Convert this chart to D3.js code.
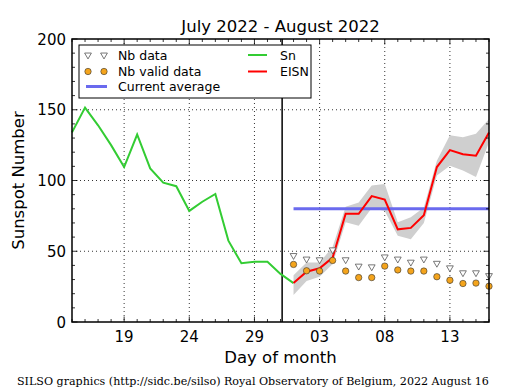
<!DOCTYPE html>
<html>
<head>
<meta charset="utf-8">
<script src="https://cdn.jsdelivr.net/npm/d3@7"></script>
<style>
body{margin:0;background:#fff;}
svg text{font-family:"DejaVu Sans",sans-serif;fill:#000;}
</style>
</head>
<body>
<svg id="chart" width="515" height="390"></svg>
<script>
// Sn before the current month, EISN for the current month
var snDates = ["2022-07-15","2022-07-16","2022-07-17","2022-07-18","2022-07-19","2022-07-20","2022-07-21","2022-07-22","2022-07-23","2022-07-24","2022-07-25","2022-07-26","2022-07-27","2022-07-28","2022-07-29","2022-07-30","2022-07-31","2022-08-01"];
var snValues = [134,151.5,139,125,109.5,132.5,108.5,98.5,96,78.5,85,90.5,57.5,41.5,42.5,42.5,34,27.5];

var eisnDates = ["2022-08-01","2022-08-02","2022-08-03","2022-08-04","2022-08-05","2022-08-06","2022-08-07","2022-08-08","2022-08-09","2022-08-10","2022-08-11","2022-08-12","2022-08-13","2022-08-14","2022-08-15","2022-08-16"];
var eisnValues = [27.5,35.5,38,45.5,76.5,76.5,89,86.5,65.5,66.5,75.5,109.5,121.5,118.5,117.5,134];
var eisnHigh = [33,42,42,53,81.5,84.5,96.5,97.5,70.5,74,81,114,132,130.5,133,143.5];
var eisnLow = [19,29,32,41,70.5,68,80.5,78.5,61,58.5,70,103.5,110.5,107,102.5,127];
var nbData = [47,44.5,44,51,44,39.5,39,46,44.5,42.3,44.5,41.5,38.3,34.8,34.8,32.8];
var nbValid = [40.7,36.2,36,43.5,36,31.4,31.4,39.5,36.8,36,36,32,29.5,27.2,27.5,25.3];

var currentAverage = 80;
var monthStart = "2022-07-31T03:00";

var xDomain = ["2022-07-15","2022-08-16"];
var xTicks = ["2022-07-19","2022-07-24","2022-07-29","2022-08-03","2022-08-08","2022-08-13"];
var yTicks = [0,50,100,150,200];

var parse = function(s){return new Date(s + (s.length == 10 ? "T00:00" : ""));};

var plotLeft = 72, plotRight = 489, plotTop = 39, plotBottom = 322;
var svg = d3.select("#chart");

var x = d3.scaleTime().domain(xDomain.map(parse)).range([plotLeft,plotRight]);
var y = d3.scaleLinear().domain([0,200]).range([plotBottom,plotTop]);

// grid
svg.append("g").selectAll("line")
    .data(xTicks.map(parse))
    .enter().append("line")
    .attr("x1",function(d){return x(d);}).attr("x2",function(d){return x(d);})
    .attr("y1",plotTop).attr("y2",plotBottom)
    .attr("stroke","#000").attr("stroke-width",0.8).attr("stroke-dasharray","1,3");
svg.append("g").selectAll("line")
    .data(yTicks.slice(1,4))
    .enter().append("line")
    .attr("x1",plotLeft).attr("x2",plotRight)
    .attr("y1",function(d){return y(d);}).attr("y2",function(d){return y(d);})
    .attr("stroke","#000").attr("stroke-width",0.8).attr("stroke-dasharray","1,3");

var plot = svg.append("g");

// uncertainty band
var band = eisnDates.map(function(d,i){return {date:parse(d),lo:eisnLow[i],hi:eisnHigh[i]};});
plot.append("path")
    .datum(band)
    .attr("fill","#cfcfcf")
    .attr("d",d3.area()
        .x(function(d){return x(d.date);})
        .y0(function(d){return y(d.lo);})
        .y1(function(d){return y(d.hi);}));

// current average
plot.append("line")
    .attr("x1",x(parse(eisnDates[0]))).attr("x2",x(parse(eisnDates[eisnDates.length-1])))
    .attr("y1",y(currentAverage)).attr("y2",y(currentAverage))
    .attr("stroke","#6a6aee").attr("stroke-width",3);

// month separator
plot.append("line")
    .attr("x1",x(parse(monthStart))).attr("x2",x(parse(monthStart)))
    .attr("y1",plotTop).attr("y2",plotBottom)
    .attr("stroke","#000").attr("stroke-width",1.5);

var line = d3.line()
    .x(function(d){return x(d.date);})
    .y(function(d){return y(d.v);});

plot.append("path")
    .datum(snDates.map(function(d,i){return {date:parse(d),v:snValues[i]};}))
    .attr("fill","none").attr("stroke","#33cc33").attr("stroke-width",2)
    .attr("d",line);

plot.append("path")
    .datum(eisnDates.map(function(d,i){return {date:parse(d),v:eisnValues[i]};}))
    .attr("fill","none").attr("stroke","#ff0000").attr("stroke-width",2)
    .attr("d",line);

var tri = d3.symbol().type(d3.symbolTriangle).size(20);
plot.selectAll(".nb")
    .data(nbData)
    .enter().append("path")
    .attr("class","nb")
    .attr("d",tri)
    .attr("transform",function(d,i){return "translate(" + x(parse(eisnDates[i])) + "," + y(d) + ") rotate(180)";})
    .attr("fill","#fff").attr("stroke","#555").attr("stroke-width",0.8);

plot.selectAll(".nbv")
    .data(nbValid)
    .enter().append("circle")
    .attr("class","nbv")
    .attr("cx",function(d,i){return x(parse(eisnDates[i]));})
    .attr("cy",function(d){return y(d);})
    .attr("r",3.2)
    .attr("fill","#f4a41c").attr("stroke","#333").attr("stroke-width",0.6);

// frame
svg.append("rect")
    .attr("x",plotLeft).attr("y",plotTop).attr("width",plotRight-plotLeft).attr("height",plotBottom-plotTop)
    .attr("fill","none").attr("stroke","#000").attr("stroke-width",1.5);

// ticks (inward, all four sides)
var days = d3.timeDay.range(parse(xDomain[0]),d3.timeDay.offset(parse(xDomain[1]),1));
var ticks = svg.append("g").attr("stroke","#000").attr("stroke-width",0.8);
days.forEach(function(d){
    var major = xTicks.map(parse).some(function(t){return +t == +d;});
    var len = major ? 5.5 : 3;
    ticks.append("line").attr("x1",x(d)).attr("x2",x(d)).attr("y1",plotBottom).attr("y2",plotBottom-len);
    ticks.append("line").attr("x1",x(d)).attr("x2",x(d)).attr("y1",plotTop).attr("y2",plotTop+len);
});
d3.range(0,201,10).forEach(function(v){
    var len = v % 50 == 0 ? 5.5 : 3;
    ticks.append("line").attr("x1",plotLeft).attr("x2",plotLeft+len).attr("y1",y(v)).attr("y2",y(v));
    ticks.append("line").attr("x1",plotRight).attr("x2",plotRight-len).attr("y1",y(v)).attr("y2",y(v));
});

// tick labels
var fmt = d3.timeFormat("%d");
svg.append("g").selectAll("text")
    .data(xTicks.map(parse))
    .enter().append("text")
    .attr("x",function(d){return x(d);})
    .attr("y",plotBottom+20)
    .attr("text-anchor","middle")
    .style("font-size","15px")
    .text(function(d){return fmt(d);});
svg.append("g").selectAll("text")
    .data(yTicks)
    .enter().append("text")
    .attr("x",plotLeft-6)
    .attr("y",function(d){return y(d)+5.5;})
    .attr("text-anchor","end")
    .style("font-size","15px")
    .text(function(d){return d;});

svg.append("text")
    .attr("x",(plotLeft+plotRight)/2).attr("y",363)
    .attr("text-anchor","middle").style("font-size","16.5px")
    .text("Day of month");
svg.append("text")
    .attr("transform","translate(24," + (plotTop+plotBottom)/2 + ") rotate(-90)")
    .attr("text-anchor","middle").style("font-size","16.5px")
    .text("Sunspot Number");
svg.append("text")
    .attr("x",(plotLeft+plotRight)/2).attr("y",31.5)
    .attr("text-anchor","middle").style("font-size","16.5px")
    .text("July 2022 - August 2022");
svg.append("text")
    .attr("x",17).attr("y",384.5)
    .style("font-family","'DejaVu Serif',serif").style("font-size","11.1px")
    .text("SILSO graphics (http://sidc.be/silso) Royal Observatory of Belgium, 2022 August 16");

// legend
var lg = svg.append("g");
lg.append("rect")
    .attr("x",79).attr("y",45).attr("width",232).attr("height",53)
    .attr("fill","#fff").attr("stroke","#000").attr("stroke-width",1);
var rowY = [55,71.5,86.5];
[88,104].forEach(function(px){
    lg.append("path").attr("d",tri)
        .attr("transform","translate(" + px + "," + rowY[0] + ") rotate(180)")
        .attr("fill","#fff").attr("stroke","#555").attr("stroke-width",0.8);
    lg.append("circle").attr("cx",px).attr("cy",rowY[1]).attr("r",3.2)
        .attr("fill","#f4a41c").attr("stroke","#333").attr("stroke-width",0.6);
});
lg.append("line").attr("x1",86).attr("x2",107).attr("y1",rowY[2]).attr("y2",rowY[2])
    .attr("stroke","#6a6aee").attr("stroke-width",3);
lg.append("line").attr("x1",248).attr("x2",267).attr("y1",rowY[0]).attr("y2",rowY[0])
    .attr("stroke","#33cc33").attr("stroke-width",2);
lg.append("line").attr("x1",248).attr("x2",267).attr("y1",rowY[1]).attr("y2",rowY[1])
    .attr("stroke","#ff0000").attr("stroke-width",2);
var legendText = [["Nb data",118,rowY[0]],["Nb valid data",118,rowY[1]],["Current average",118,rowY[2]],["Sn",280,rowY[0]],["EISN",280,rowY[1]]];
lg.selectAll("text")
    .data(legendText)
    .enter().append("text")
    .attr("x",function(d){return d[1];})
    .attr("y",function(d){return d[2]+4.5;})
    .style("font-size","12.5px")
    .text(function(d){return d[0];});
</script>
</body>
</html>
